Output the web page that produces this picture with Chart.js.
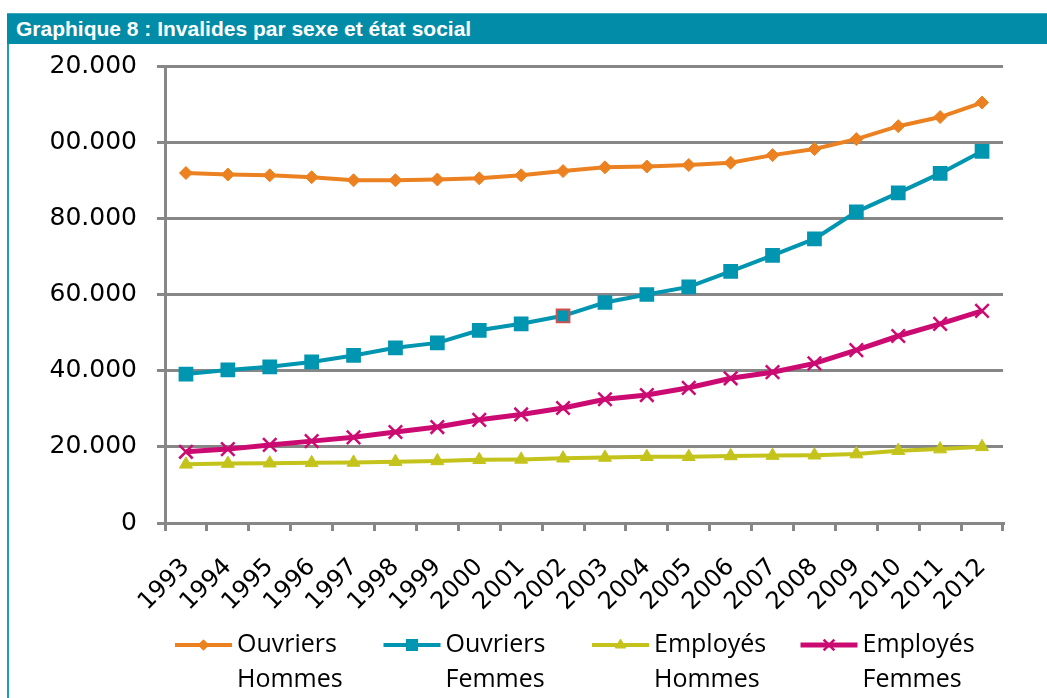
<!DOCTYPE html>
<html>
<head>
<meta charset="utf-8">
<script src="https://cdn.jsdelivr.net/npm/chart.js@4/dist/chart.umd.min.js"></script>
<style>
  html, body { margin: 0; padding: 0; background: #ffffff; }
  body { width: 1047px; height: 698px; position: relative; overflow: hidden; }
  #hdr {
    position: absolute; left: 7px; top: 13px; width: 1040px; height: 31px;
    background: #028ca8; border-top: 1px solid #3aa9c0; box-sizing: border-box;
    color: #ffffff; font: bold 21px "Liberation Sans", Arial, sans-serif;
    line-height: 29px; padding-left: 9px; white-space: nowrap;
  }
  #lb { position: absolute; left: 7px; top: 44px; width: 2px; height: 654px; background: #1f9cb6; }
  #wrap { position: absolute; left: 10px; top: 44px; width: 1037px; height: 654px; }
</style>
</head>
<body>
<div id="hdr">Graphique 8 : Invalides par sexe et état social</div>
<div id="lb"></div>
<div id="wrap"><canvas id="c"></canvas></div>
<script>
// ---- data ----
const years = ['1993','1994','1995','1996','1997','1998','1999','2000','2001','2002',
               '2003','2004','2005','2006','2007','2008','2009','2010','2011','2012'];
const ouvriersHommes = [91900, 91500, 91300, 90800, 90000, 90000, 90200, 90500, 91300, 92400,
                        93400, 93600, 94000, 94600, 96600, 98200, 100800, 104200, 106600, 110400];
const ouvriersFemmes = [39100, 40200, 41000, 42300, 44000, 46000, 47300, 50600, 52300, 54400,
                        57900, 60000, 62000, 66100, 70300, 74600, 81700, 86700, 91800, 97600];
const employesHommes = [15400, 15600, 15700, 15800, 15900, 16100, 16300, 16600, 16700, 17000,
                        17200, 17400, 17400, 17600, 17700, 17800, 18100, 19000, 19400, 20000];
const employesFemmes = [18700, 19400, 20500, 21500, 22500, 23900, 25200, 27100, 28500, 30200,
                        32500, 33600, 35500, 38000, 39600, 41900, 45400, 49100, 52300, 55700];
const seriesLabels = [['Ouvriers','Hommes'], ['Ouvriers','Femmes'], ['Employés','Hommes'], ['Employés','Femmes']];
const yTickValues = [0, 20000, 40000, 60000, 80000, 100000, 120000];
const yTickLabels = ['0', '20.000', '40.000', '60.000', '80.000', '00.000', '20.000'];

// ---- styles ----
const GRID = '#878787';
const colors = ['#eb8120', '#0095b0', '#c4c31b', '#cb0b72'];
const styles = ['rectRot', 'rect', 'triangle', 'crossRot'];
const radii = [6.5, 9, 7.5, 9.5];
const lineW = [4, 4, 4, 5];
const borderW = [1, 2, 1, 2.5];

const seriesData = [ouvriersHommes, ouvriersFemmes, employesHommes, employesFemmes];
const datasets = seriesData.map((d, i) => ({
  label: seriesLabels[i].join(' '),
  legendLines: seriesLabels[i],
  data: d,
  borderColor: colors[i],
  backgroundColor: colors[i],
  borderWidth: lineW[i],
  pointStyle: styles[i],
  pointRadius: radii[i],
  pointHoverRadius: radii[i],
  pointBackgroundColor: colors[i],
  pointBorderColor: i === 1 ? d.map((v, k) => years[k] === '2002' ? '#d0504d' : colors[i]) : colors[i],
  pointBorderWidth: borderW[i],
  tension: 0,
  fill: false
}));

// Legend drawn below the axis: line + marker, then two-line label
const lineLegend = {
  id: 'lineLegend',
  afterDraw(chart) {
    const ctx = chart.ctx;
    const area = chart.chartArea;
    const colW = 208.5;
    const y1 = area.bottom + 122;
    const lh = 35;
    ctx.save();
    ctx.font = '25px "Open Sans", sans-serif';
    ctx.textBaseline = 'middle';
    ctx.textAlign = 'left';
    chart.data.datasets.forEach((ds, i) => {
      const tx = area.left + 72 + i * colW;
      const lx0 = tx - 62, lx1 = tx - 5;
      ctx.strokeStyle = ds.borderColor;
      ctx.lineWidth = ds.borderWidth;
      ctx.beginPath(); ctx.moveTo(lx0, y1); ctx.lineTo(lx1, y1); ctx.stroke();
      ctx.fillStyle = ds.pointBackgroundColor;
      ctx.strokeStyle = ds.borderColor;
      ctx.lineWidth = ds.pointBorderWidth;
      Chart.helpers.drawPoint(ctx, { pointStyle: ds.pointStyle, radius: ds.pointRadius * 0.8, borderWidth: ds.pointBorderWidth, rotation: 0 }, (lx0 + lx1) / 2, y1);
      ctx.fillStyle = '#000000';
      ds.legendLines.forEach((t, k) => ctx.fillText(t, tx, y1 + k * lh));
    });
    ctx.restore();
  }
};

new Chart(document.getElementById('c'), {
  type: 'line',
  data: { labels: years, datasets },
  plugins: [lineLegend],
  options: {
    responsive: true,
    maintainAspectRatio: false,
    animation: false,
    layout: { padding: { left: 10, right: 44, top: 22, bottom: 70 } },
    plugins: {
      tooltip: { enabled: false },
      title: { display: false },
      legend: { display: false }
    },
    scales: {
      x: {
        type: 'category',
        offset: true,
        grid: { display: true, offset: true, drawOnChartArea: false, drawTicks: true, tickLength: 8, color: GRID, lineWidth: 3 },
        border: { display: true, color: GRID, width: 3 },
        ticks: {
          color: '#000000', autoSkip: false, minRotation: 45, maxRotation: 45, padding: 22,
          font: { family: '"DejaVu Sans", sans-serif', size: 24 }
        },
        afterFit: (s) => { s.height = 105; }
      },
      y: {
        min: 0, max: 120000,
        afterBuildTicks: (s) => { s.ticks = yTickValues.map(v => ({ value: v })); },
        grid: { color: GRID, lineWidth: 3, tickLength: 8, drawTicks: true },
        border: { display: true, color: GRID, width: 3 },
        ticks: {
          color: '#000000', padding: 20,
          font: { family: '"DejaVu Sans", sans-serif', size: 25 },
          callback: (v) => { const k = yTickValues.indexOf(v); return k >= 0 ? yTickLabels[k] : ''; }
        },
        afterFit: (s) => { s.width = 145; s.paddingTop = 0; s.paddingBottom = 0; }
      }
    }
  }
});
</script>
</body>
</html>
